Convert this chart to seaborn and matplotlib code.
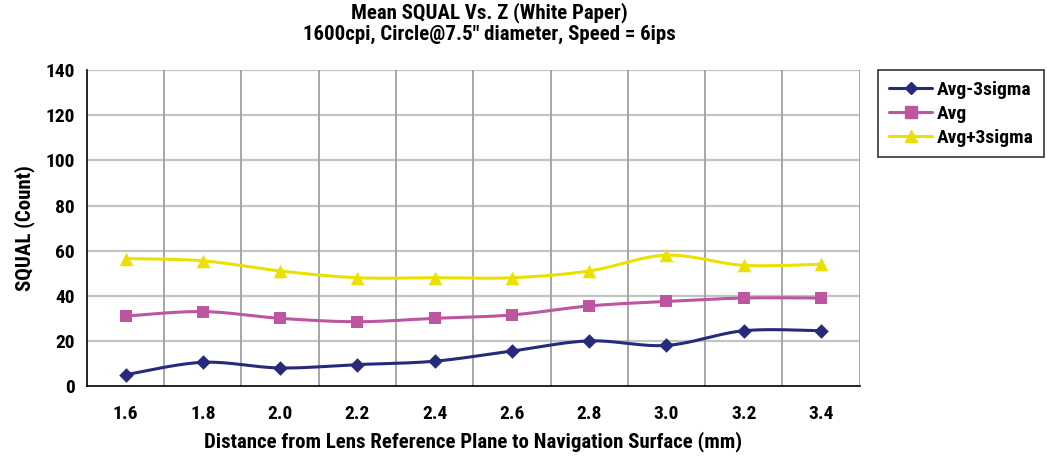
import numpy as np
import pandas as pd
import matplotlib
matplotlib.use("Agg")
import matplotlib.pyplot as plt
import seaborn as sns
from matplotlib import font_manager
from matplotlib.lines import Line2D

categories = ["1.6", "1.8", "2.0", "2.2", "2.4", "2.6", "2.8", "3.0", "3.2", "3.4"]
avg_minus = [5, 10.5, 8, 9.5, 11, 15.5, 20, 18, 24.5, 24.5]
avg = [31, 33, 30, 28.5, 30, 31.5, 35.5, 37.5, 39, 39]
avg_plus = [56.5, 55.5, 51, 48, 48, 48, 51, 58, 53.5, 54]
series_names = ["Avg-3sigma", "Avg", "Avg+3sigma"]
colors = ["#27297a", "#bd55a0", "#ece000"]
markers = ["D", "s", "^"]

sns.set_theme(style="white", rc={"text.color": "black", "axes.labelcolor": "black",
                                 "xtick.color": "black", "ytick.color": "black"})
names = {f.name for f in font_manager.fontManager.ttflist}
fam = [n for n in ["Liberation Sans Narrow", "DejaVu Sans Condensed", "Roboto Condensed"] if n in names]
plt.rcParams["font.family"] = fam + ["DejaVu Sans"]
if not fam:
    plt.rcParams["font.stretch"] = "condensed"
plt.rcParams["font.weight"] = "bold"


def smooth(y, n=30):
    y = np.asarray(y, float)
    x = np.arange(len(y), dtype=float)
    P = np.column_stack([x, y])
    pts = []
    for i in range(len(P) - 1):
        p0 = P[i - 1] if i > 0 else P[i]
        p1, p2 = P[i], P[i + 1]
        p3 = P[i + 2] if i + 2 < len(P) else P[i + 1]
        c1 = p1 + (p2 - p0) / 6
        c2 = p2 - (p3 - p1) / 6
        t = np.linspace(0, 1, n, endpoint=False)[:, None]
        b = (1 - t) ** 3 * p1 + 3 * (1 - t) ** 2 * t * c1 + 3 * (1 - t) * t ** 2 * c2 + t ** 3 * p2
        pts.append(b)
    pts.append(P[-1:])
    return np.vstack(pts)


fig = plt.figure(figsize=(10.47, 4.62), dpi=100)
ax = fig.add_axes([0.083, 0.1645, 0.738, 0.6835])

data = [avg_minus, avg, avg_plus]
for name, vals, c, m in zip(series_names, data, colors, markers):
    curve = smooth(vals)
    dfc = pd.DataFrame({"x": curve[:, 0], "y": curve[:, 1]})
    sns.lineplot(data=dfc, x="x", y="y", ax=ax, color=c, linewidth=2.2, sort=False,
                 estimator=None, zorder=3)
    dfp = pd.DataFrame({"x": np.arange(len(vals)), "y": vals})
    ms = 55 if m == "D" else (70 if m == "s" else 95)
    sns.scatterplot(data=dfp, x="x", y="y", ax=ax, color=c, marker=m, s=ms,
                    edgecolor=c, linewidth=0, zorder=4)

ax.set_xlim(-0.5, len(categories) - 0.5)
ax.set_ylim(0, 140)
ax.set_yticks(np.arange(0, 141, 20))
ax.set_xticks(np.arange(len(categories)))
ax.set_xticklabels(categories)
ax.set_xticks(np.arange(len(categories) + 1) - 0.5, minor=True)
ax.tick_params(axis="x", which="major", length=0, labelsize=14, pad=14)
ax.tick_params(axis="x", which="minor", length=6, width=1, color="black", direction="out")
ax.tick_params(axis="y", which="major", length=5, width=1, color="black", direction="out",
               labelsize=14)
for lab in ax.get_xticklabels() + ax.get_yticklabels():
    lab.set_fontweight("bold")
ax.grid(False)
for yv in np.arange(20, 141, 20):
    ax.axhline(yv, color="#c4c4c4", linewidth=1.6, zorder=1)
for xv in np.arange(len(categories) + 1)[1:] - 0.5:
    ax.axvline(xv, color="#a0a0a0", linewidth=1.3, zorder=1)

for s in ["top", "right"]:
    ax.spines[s].set_visible(False)
for s in ["left", "bottom"]:
    ax.spines[s].set_color("black")
    ax.spines[s].set_linewidth(1.2)

ax.set_xlabel("Distance from Lens Reference Plane to Navigation Surface (mm)",
              fontsize=15, fontweight="bold", labelpad=6)
ax.set_ylabel("SQUAL (Count)", fontsize=15, fontweight="bold", labelpad=8)
fig.suptitle("Mean SQUAL Vs. Z (White Paper)\n1600cpi, Circle@7.5\" diameter, Speed = 6ips",
             fontsize=15, fontweight="bold", x=0.467, y=0.995, linespacing=1.15)

handles = [Line2D([0], [0], color=c, marker=m, markersize=8 if m != "D" else 6.5,
                  linewidth=2.2) for c, m in zip(colors, markers)]
leg = fig.legend(handles, series_names, loc="upper left", bbox_to_anchor=(0.839, 0.848),
                 frameon=True, fancybox=False, fontsize=14, handlelength=2.2,
                 handletextpad=0.25, borderpad=0.55, labelspacing=0.3, borderaxespad=0)
leg.get_frame().set_edgecolor("black")
leg.get_frame().set_linewidth(1.2)
for t in leg.get_texts():
    t.set_fontweight("bold")

fig.savefig("out.png", dpi=100)
